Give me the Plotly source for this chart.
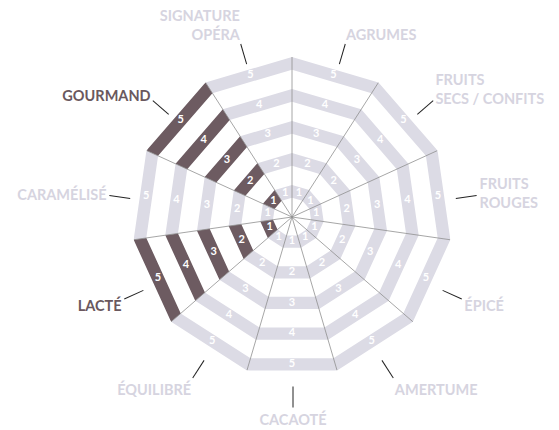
import math
import plotly.graph_objects as go

# ---- data ----
categories = ["AGRUMES", "FRUITS<br>SECS / CONFITS", "FRUITS<br>ROUGES", "ÉPICÉ", "AMERTUME",
              "CACAOTÉ", "ÉQUILIBRÉ", "LACTÉ", "CARAMÉLISÉ", "GOURMAND", "SIGNATURE<br>OPÉRA"]
highlighted = ["GOURMAND", "LACTÉ"]
levels = [1, 2, 3, 4, 5]
level_labels = ["1", "2", "3", "4", "5"]

# ---- style ----
LIGHT = "#dcdbe5"
DARK = "#6d5b61"
LABEL_LIGHT = "#d6d4e0"
LABEL_DARK = "#6a585e"
SPOKE = "#8f8f8f"
BAND = 0.4
FONT = "Lato"

n = len(categories)
step = 360.0 / n


def plain(c):
    return c.replace("<br>", " ")


def band_polys(want_dark):
    r, th = [], []
    for i, cat in enumerate(categories):
        if (plain(cat) in highlighted) != want_dark:
            continue
        a0, a1 = i * step, (i + 1) * step
        for k in levels:
            r += [k, k, k - BAND, k - BAND, k, None]
            th += [a0, a1, a1, a0, a0, None]
    return r, th


fig = go.Figure()
for dark in (False, True):
    r, th = band_polys(dark)
    col = DARK if dark else LIGHT
    fig.add_trace(go.Scatterpolar(r=r, theta=th, mode="lines", fill="toself",
                                  fillcolor=col, line=dict(width=0, color=col),
                                  hoverinfo="skip", showlegend=False))

# spokes
sr, sth = [], []
for i in range(n):
    sr += [0, levels[-1], None]
    sth += [i * step, i * step, None]
fig.add_trace(go.Scatterpolar(r=sr, theta=sth, mode="lines",
                              line=dict(color=SPOKE, width=0.8),
                              hoverinfo="skip", showlegend=False))

# level numbers inside the bands
tr, tth, tt = [], [], []
shrink = math.cos(math.pi / n)
for i, cat in enumerate(categories):
    for k, lab in zip(levels, level_labels):
        tr.append((k - BAND / 2) * shrink)
        tth.append((i + 0.5) * step)
        tt.append(lab)
fig.add_trace(go.Scatterpolar(r=tr, theta=tth, mode="text", text=tt,
                              textfont=dict(family=FONT, size=11, color="white", weight="bold"),
                              hoverinfo="skip", showlegend=False))

# carrier for the label ring subplot (no visible marks)
fig.add_trace(go.Scatterpolar(r=[], theta=[], subplot="polar2", mode="markers",
                              hoverinfo="skip", showlegend=False))

ticktext = []
for cat in categories:
    col = LABEL_DARK if plain(cat) in highlighted else LABEL_LIGHT
    ticktext.append(f"<span style='color:{col}'>{cat}</span>")

W, H = 559, 430
OFF = 8  # page body margin


def dom(cx, cy, R):
    cx, cy = cx - OFF, cy - OFF
    return dict(x=[(cx - R) / W, (cx + R) / W], y=[1 - (cy + R) / H, 1 - (cy - R) / H])


fig.update_layout(
    width=W, height=H,
    margin=dict(l=0, r=0, t=0, b=0),
    paper_bgcolor="white",
    polar=dict(
        domain=dom(292, 217, 160),
        bgcolor="rgba(0,0,0,0)",
        radialaxis=dict(range=[0, levels[-1]], visible=False),
        angularaxis=dict(type="linear", rotation=90, direction="clockwise",
                         showgrid=False, showline=False, ticks="", showticklabels=False),
    ),
    polar2=dict(
        domain=dom(293, 222, 164),
        bgcolor="rgba(0,0,0,0)",
        radialaxis=dict(range=[0, 1], visible=False),
        angularaxis=dict(
            type="linear", rotation=90, direction="clockwise",
            tickmode="array", tickvals=[(i + 0.5) * step for i in range(n)], ticktext=ticktext,
            ticks="outside", ticklen=21, tickwidth=1.3, tickcolor="#222",
            showgrid=False, showline=False,
            tickfont=dict(family=FONT, size=14.5, color=LABEL_LIGHT, weight="bold"),
        ),
    ),
)
fig.write_html("out.html")
